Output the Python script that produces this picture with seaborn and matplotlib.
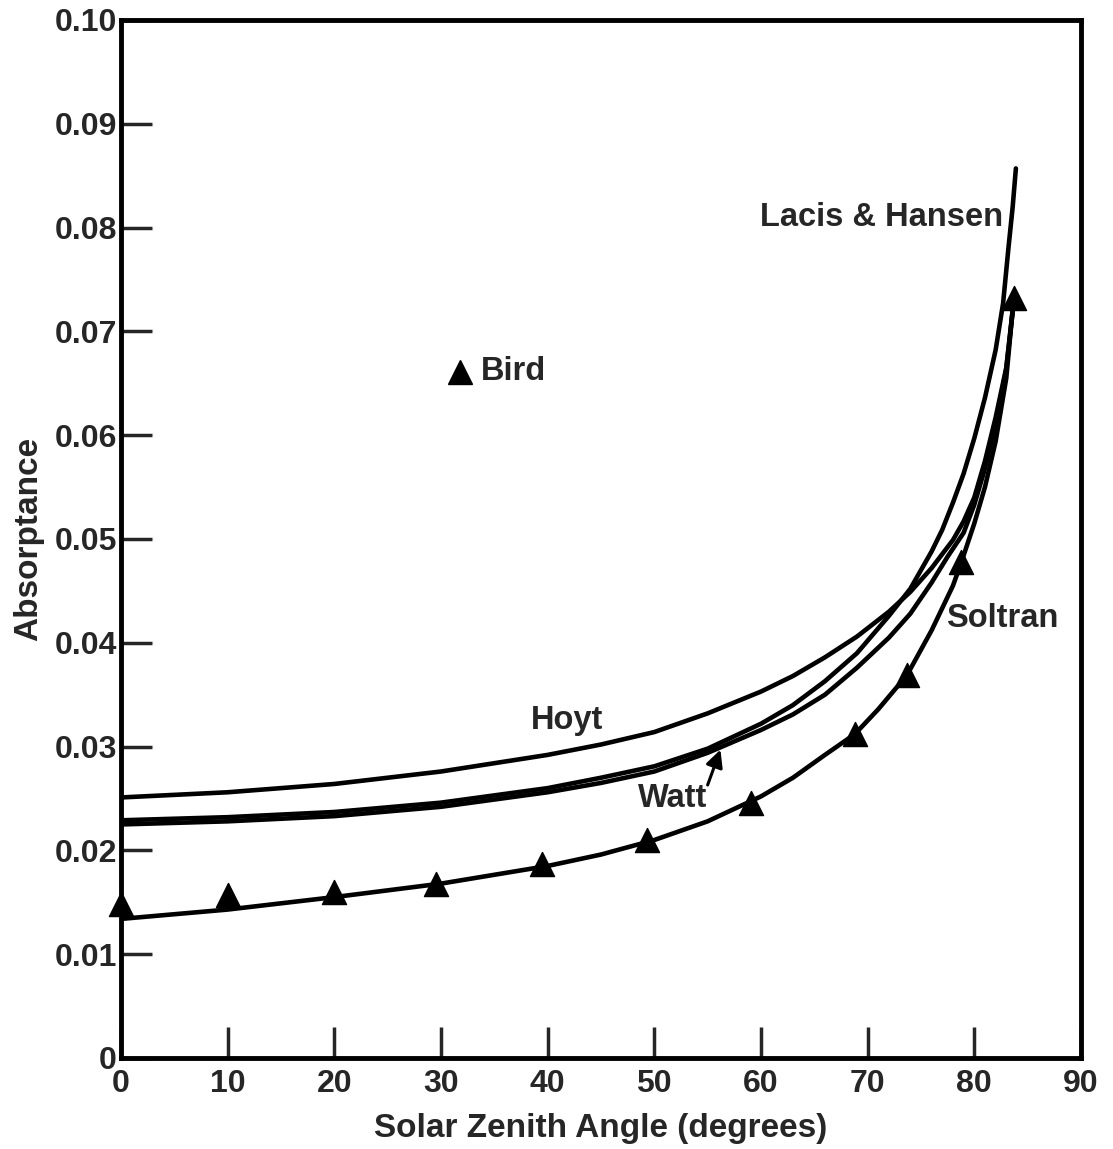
import matplotlib
matplotlib.use("Agg")
import matplotlib.pyplot as plt
import seaborn as sns
import pandas as pd

# ---- data ----
hoyt_x = [0, 10, 20, 30, 40, 45, 50, 55, 60, 63, 66, 69, 72, 74, 76, 78, 79, 80, 81, 82, 83, 83.7]
hoyt_y = [0.0251, 0.0256, 0.0264, 0.0276, 0.0292, 0.0302, 0.0314, 0.0332, 0.0353, 0.0368, 0.0386,
          0.0406, 0.0430, 0.0449, 0.0472, 0.0499, 0.0517, 0.0540, 0.0575, 0.0617, 0.0665, 0.0728]

lacis_x = [0, 10, 20, 30, 40, 45, 50, 55, 60, 63, 66, 69, 72, 74, 76, 77, 78, 79, 80, 81, 82,
           82.7, 83.2, 83.6, 83.9]
lacis_y = [0.0229, 0.0232, 0.0237, 0.0246, 0.0260, 0.0270, 0.0281, 0.0298, 0.0322, 0.0340, 0.0363,
           0.0390, 0.0426, 0.0452, 0.0488, 0.0509, 0.0535, 0.0563, 0.0597, 0.0636, 0.0682,
           0.0727, 0.0780, 0.0820, 0.0857]

watt_x = [0, 10, 20, 30, 40, 45, 50, 55, 60, 63, 66, 69, 72, 74, 76, 77.5, 79, 80, 81, 82, 83, 83.7]
watt_y = [0.0225, 0.0228, 0.0233, 0.0242, 0.0256, 0.0265, 0.0276, 0.0294, 0.0316, 0.0331, 0.0350,
          0.0376, 0.0405, 0.0428, 0.0458, 0.0483, 0.0506, 0.0533, 0.0568, 0.0610, 0.0664, 0.0730]

soltran_x = [0, 10, 20, 30, 40, 45, 50, 55, 60, 63, 66, 68.8, 71, 73.7, 76, 78, 78.8, 80, 81, 82,
             83, 83.7]
soltran_y = [0.0134, 0.0143, 0.0155, 0.0168, 0.0185, 0.0196, 0.0210, 0.0228, 0.0252, 0.0270,
             0.0292, 0.0312, 0.0336, 0.0369, 0.0412, 0.0455, 0.0478, 0.0515, 0.0550, 0.0594,
             0.0655, 0.0732]

bird_x = [0, 10.0, 20.0, 29.5, 39.5, 49.3, 59.1, 68.8, 73.7, 78.8, 83.7]
bird_y = [0.0148, 0.0157, 0.0160, 0.0168, 0.0187, 0.0210, 0.0246, 0.0312, 0.0369, 0.0478, 0.0732]

x_ticks = [0, 10, 20, 30, 40, 50, 60, 70, 80, 90]
x_ticklabels = ["0", "10", "20", "30", "40", "50", "60", "70", "80", "90"]
y_ticks = [0, 0.01, 0.02, 0.03, 0.04, 0.05, 0.06, 0.07, 0.08, 0.09, 0.10]
y_ticklabels = ["0", "0.01", "0.02", "0.03", "0.04", "0.05", "0.06", "0.07", "0.08", "0.09", "0.10"]

# ---- style ----
sns.set_style("white")
plt.rcParams["font.family"] = ["Liberation Sans", "DejaVu Sans"]
plt.rcParams["font.weight"] = "bold"

fig = plt.figure(figsize=(11.13, 11.49), dpi=100)
ax = fig.add_axes([0.1087, 0.0792, 0.9712 - 0.1087, 0.9826 - 0.0792])

lw = 3.3
for xs, ys in [(hoyt_x, hoyt_y), (lacis_x, lacis_y), (watt_x, watt_y), (soltran_x, soltran_y)]:
    df = pd.DataFrame({"x": xs, "y": ys})
    sns.lineplot(data=df, x="x", y="y", ax=ax, color="black", linewidth=lw,
                 estimator=None, sort=False, solid_capstyle="round", solid_joinstyle="round")

bird_df = pd.DataFrame({"x": bird_x, "y": bird_y})
sns.scatterplot(data=bird_df, x="x", y="y", ax=ax, marker="^", s=300,
                color="black", edgecolor="black", linewidth=1, clip_on=False, zorder=5)

# legend-like Bird marker
ax.plot([31.8], [0.0661], marker="^", markersize=17, color="black", linestyle="none")

fs = 23.5
ax.text(33.7, 0.0661, "Bird", fontsize=fs, fontweight="bold", va="center", ha="left")
ax.text(71.3, 0.0810, "Lacis & Hansen", fontsize=fs, fontweight="bold", va="center", ha="center")
ax.text(41.8, 0.0325, "Hoyt", fontsize=fs, fontweight="bold", va="center", ha="center")
ax.text(51.7, 0.0250, "Watt", fontsize=fs, fontweight="bold", va="center", ha="center")
ax.text(82.6, 0.0423, "Soltran", fontsize=fs, fontweight="bold", va="center", ha="center")
ax.annotate("", xy=(56.2, 0.0297), xytext=(55.0, 0.0263),
            arrowprops=dict(arrowstyle="-|>", color="black", lw=2.2, mutation_scale=26,
                            shrinkA=0, shrinkB=0))

ax.set_xlim(0, 90)
ax.set_ylim(0, 0.10)
ax.set_xticks(x_ticks)
ax.set_xticklabels(x_ticklabels)
ax.set_yticks(y_ticks)
ax.set_yticklabels(y_ticklabels)
ax.tick_params(axis="both", direction="in", length=22, width=2.5, labelsize=23,
               top=False, right=False, left=True, bottom=True)
ax.tick_params(axis="y", pad=3)
ax.tick_params(axis="x", pad=8)
for lab in ax.get_xticklabels() + ax.get_yticklabels():
    lab.set_fontweight("bold")

for sp in ax.spines.values():
    sp.set_visible(True)
    sp.set_color("black")
    sp.set_linewidth(3.5)

ax.set_xlabel("Solar Zenith Angle (degrees)", fontsize=24, fontweight="bold", labelpad=10)
ax.set_ylabel("Absorptance", fontsize=24, fontweight="bold", labelpad=7)

fig.savefig("out.png", dpi=100, facecolor="white")
